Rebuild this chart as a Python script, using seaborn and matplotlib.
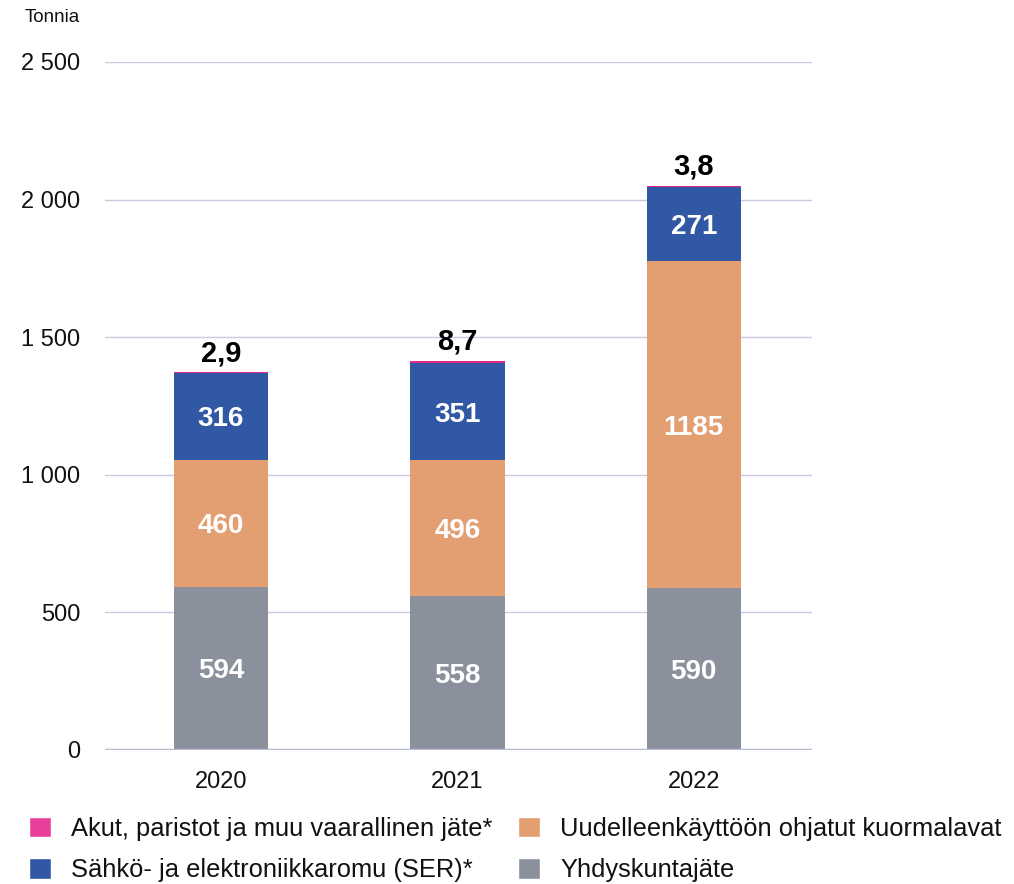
import matplotlib
matplotlib.use("Agg")
import matplotlib.pyplot as plt
import seaborn as sns
import pandas as pd
import numpy as np
from matplotlib.patches import Patch

years = ["2020", "2021", "2022"]
yhdyskunta = [594, 558, 590]
kuormalavat = [460, 496, 1185]
ser = [316, 351, 271]
akut = [2.9, 8.7, 3.8]

series_names = ["Yhdyskuntajäte", "Uudelleenkäyttöön ohjatut kuormalavat",
                "Sähkö- ja elektroniikkaromu (SER)*", "Akut, paristot ja muu vaarallinen jäte*"]
colors = ["#8A909C", "#E39E72", "#3158A4", "#E6288A"]
legend_colors = ["#8A909C", "#E39E72", "#3158A4", "#E8409A"]
yticks = [0, 500, 1000, 1500, 2000, 2500]
ytick_labels = ["0", "500", "1 000", "1 500", "2 000", "2 500"]

sns.set_theme(style="white")
plt.rcParams['font.family'] = ['Liberation Sans', 'DejaVu Sans']

fig = plt.figure(figsize=(10.14, 8.84), dpi=100)
ax = fig.add_axes([0.1036, 0.1516, 0.8008 - 0.1036, 0.9299 - 0.1516])

values = [yhdyskunta, kuormalavat, ser, akut]
cum = np.cumsum(np.array(values, dtype=float), axis=0)

# draw cumulative bars from tallest to shortest
for i in range(3, -1, -1):
    df = pd.DataFrame({"year": years, "v": cum[i]})
    sns.barplot(data=df, x="year", y="v", color=colors[i], width=0.4,
                saturation=1, ax=ax, zorder=3, linewidth=0)

# labels
for j in range(3):
    bottom = 0
    for i in range(3):
        v = values[i][j]
        ax.text(j, bottom + v / 2, f"{v:g}", ha="center", va="center_baseline",
                color="white", fontsize=20, fontweight="bold", zorder=5)
        bottom += v
    ax.text(j, cum[3][j] + 22 / 0.2752, f"{akut[j]:.1f}".replace(".", ","),
            ha="center", va="center_baseline", color="black", fontsize=21,
            fontweight="bold", zorder=5)

ax.set_ylim(0, 2500)
ax.set_xlim(-0.49, 2.5)
ax.set_yticks(yticks)
ax.set_yticklabels(ytick_labels)
ax.set_xlabel("")
ax.set_ylabel("")
ax.tick_params(axis="y", length=0, pad=18, labelsize=17, labelcolor="#111111")
ax.tick_params(axis="x", length=0, pad=15, labelsize=17, labelcolor="#111111")
for s in ax.spines.values():
    s.set_visible(False)
ax.grid(False)
for t in yticks[1:]:
    ax.axhline(t, color="#C9CADF", linewidth=1, zorder=1)
ax.axhline(0, color="#B9BAD4", linewidth=2.5, zorder=4)

fig.text(25 / 1014, 1 - 18 / 884, "Tonnia", fontsize=13.5, va="center", ha="left", color="#111111")

handles = [Patch(facecolor=legend_colors[3], label=series_names[3]),
           Patch(facecolor=legend_colors[2], label=series_names[2]),
           Patch(facecolor=legend_colors[1], label=series_names[1]),
           Patch(facecolor=legend_colors[0], label=series_names[0])]
fig.legend(handles=handles, ncol=2, loc="upper left",
           bbox_to_anchor=(29 / 1014, 1 - 817 / 884), frameon=False,
           borderpad=0, borderaxespad=0,
           fontsize=18.4, handlelength=0.85, handleheight=0.85,
           handletextpad=0.8, columnspacing=1.0, labelspacing=0.68,
           labelcolor="#111111")

fig.savefig("out.png", dpi=100)
